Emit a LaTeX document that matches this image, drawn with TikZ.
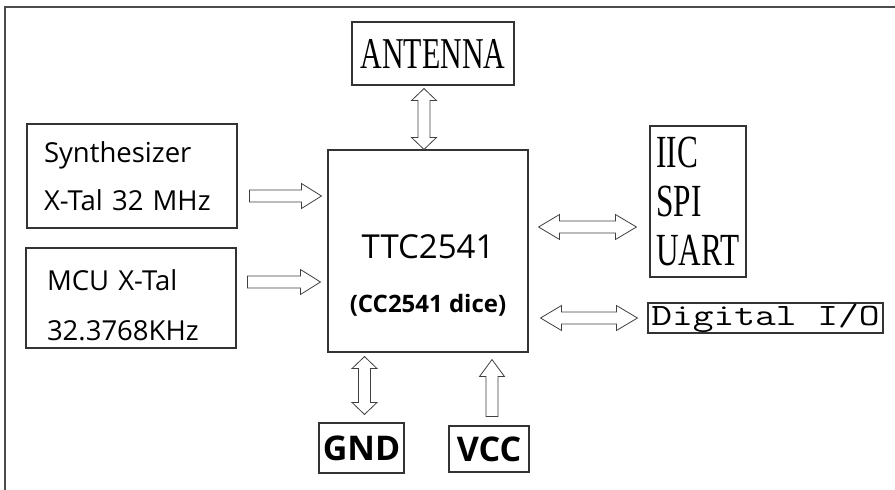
\documentclass[tikz,border=0pt]{standalone}
\usepackage{fontspec}
\setmainfont{Open Sans}
\newfontfamily\narrowserif[FakeStretch=0.68]{Liberation Serif}
\usepackage{graphicx}
\usetikzlibrary{calc}

\begin{document}
\begin{tikzpicture}[
    x=1pt, y=-1pt,
    font=\fontsize{27.5}{48}\selectfont,
    box/.style={draw=black!80, line width=1.1pt, inner sep=0pt, align=center},
    frame/.style={draw=black!70, line width=1.4pt},
    hol/.style={draw=black!75, line width=0.8pt, fill=white, to path={
        (\tikztostart) coordinate (s) (\tikztotarget) coordinate (e)
        ($(e)!#1!(s)$) coordinate (h)
        ($(s)!6pt!90:(e)$) -- ($(h)!6pt!-90:(s)$) -- ($(h)!12.5pt!-90:(s)$) -- (e)
        -- ($(h)!12.5pt!90:(s)$) -- ($(h)!6pt!90:(s)$) -- ($(s)!6pt!-90:(e)$) -- cycle}},
    hol/.default=20pt,
    dhol/.style={draw=black!75, line width=0.8pt, fill=white, to path={
        (\tikztostart) coordinate (s) (\tikztotarget) coordinate (e)
        ($(e)!#1!(s)$) coordinate (h) ($(s)!#1!(e)$) coordinate (g)
        (s) -- ($(g)!12.5pt!90:(e)$) -- ($(g)!6pt!90:(e)$) -- ($(h)!6pt!-90:(s)$)
        -- ($(h)!12.5pt!-90:(s)$) -- (e) -- ($(h)!12.5pt!90:(s)$) -- ($(h)!6pt!90:(s)$)
        -- ($(g)!6pt!-90:(e)$) -- ($(g)!12.5pt!-90:(e)$) -- cycle}},
    dhol/.default=20pt,
]
\useasboundingbox (0,0) rectangle (895,490);

% ============ outer frame ============
\draw[frame] (5,490) -- (5,7) -- (895,7);

% ============ blocks ============
\node[box, minimum width=200, minimum height=202] (ttc) at (428, 251) {};
\node[align=center] (ttclbl) at (428, 275) {{\fontsize{33}{43}\selectfont TTC2541}\\[6pt]
  {\bfseries\fontsize{24}{30}\selectfont (CC2541 dice)}};

\node[box, minimum width=162, minimum height=63, font=\narrowserif\fontsize{44}{44}\selectfont] (ant) at (433, 53.5) {ANTENNA};

\node[box, minimum width=210, minimum height=104, text width=176, align=left] (syn) at (132, 176) {Synthesizer\\X-Tal 32 MHz};
\node[box, minimum width=210, minimum height=100] (mcu) at (131, 298) {};
\node[text width=168, align=left, inner sep=0pt, font=\fontsize{27.5}{50}\selectfont] (mculbl) at (131, 305) {MCU X-Tal\\32.3768KHz};

\node[box, minimum width=96, minimum height=151, align=left, font=\narrowserif\fontsize{46}{49}\selectfont] (ifc) at (698, 201.5) {IIC\\SPI\\UART};
\node[box, minimum width=235, minimum height=30] (dio) at (765.5, 318) {\scalebox{1.3}[1]{\ttfamily\fontsize{31}{31}\selectfont Digital I/O}};

\node[box, minimum width=85, minimum height=50, font=\bfseries\fontsize{34}{34}\selectfont] (gnd) at (361.5, 448) {GND};
\node[box, minimum width=80, minimum height=46, font=\bfseries\fontsize{34}{34}\selectfont] (vcc) at (489, 449) {VCC};

% ============ hollow arrows ============
\draw[dhol=12pt] ($(ant.south)+(-9,3)$) to ($(ttc.north)+(-4,0)$);
\draw[hol] ($(syn.east)+(12,20)$) to ($(ttc.west |- syn.east)+(-6,20)$);
\draw[hol] ($(mcu.east)+(11,-16)$) to ($(ttc.west |- mcu.east)+(-7,-16)$);
\draw[dhol=21pt] ($(ttc.east)+(10,-24)$) to ($(ttc.east -| ifc.west)+(-13,-24)$);
\draw[dhol=21pt] ($(ttc.east |- dio.west)+(12,0)$) to ($(dio.west)+(-10,0)$);
\draw[dhol=12pt] ($(ttc.south -| gnd.north)+(3,4)$) to ($(gnd.north)+(3,-8)$);
\draw[hol=17pt] ($(vcc.north)+(3,-9)$) to ($(ttc.south -| vcc.north)+(3,7)$);

\end{tikzpicture}
\end{document}
